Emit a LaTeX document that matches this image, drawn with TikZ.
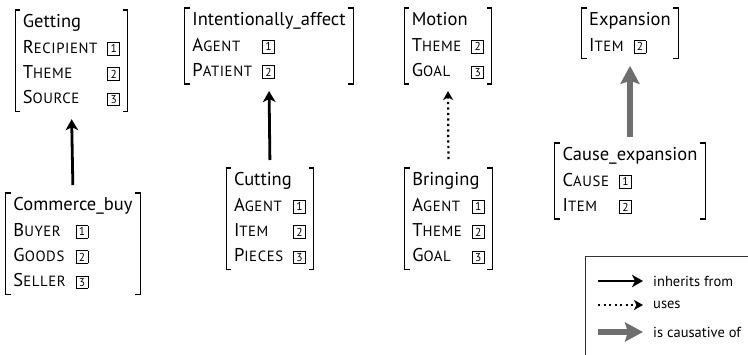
\documentclass[tikz,border=0pt]{standalone}
\usepackage{fontspec}
\setmainfont{PT Sans}
\usetikzlibrary{arrows.meta}

% frame typography: header in roman, roles in (synthetic) small caps, boxed indices
\newcommand\framefont{\fontsize{18.5}{21}\selectfont}
\newcommand\scsize{\fontsize{14.8}{16}\selectfont\addfontfeature{LetterSpace=4}}
\def\rolename#1{\rolesplit#1\relax}
\def\rolesplit#1#2\relax{#1{\scsize\MakeUppercase{#2}}}
\newcommand\slot[1]{\raisebox{0.2pt}{\setlength\fboxsep{1.7pt}\setlength\fboxrule{0.7pt}\fbox{\fontsize{11.5}{11.5}\selectfont\makebox[8pt]{#1}}}}
\newenvironment{fe}{\renewcommand\arraystretch{1.2}\begin{tabular}{@{}l@{\hspace{10pt}}l@{}}}{\end{tabular}}
\newcommand\fhead[1]{\multicolumn{2}{@{}l@{}}{#1}}

\definecolor{causegray}{HTML}{6E6E6E}

\tikzset{
  avm/.style={inner xsep=7.5pt, inner ysep=0pt, font=\framefont, anchor=north},
  bracket/.style={line width=1.1pt, line cap=rect},
  inherit/.style={line width=2.8pt, -{Stealth[length=11pt, width=12.5pt, inset=3pt]}},
  uses/.style={line width=2.2pt, dash pattern=on 2.2pt off 3.3pt,
    -{Stealth[length=9pt, width=10pt, inset=2.5pt]}},
  causes/.style={line width=6.5pt, draw=causegray,
    -{Stealth[length=18pt, width=19pt, inset=3pt, fill=causegray]}},
  legtext/.style={inner sep=0pt, anchor=west, font=\fontsize{14.5}{16}\selectfont},
}

% square brackets round a frame node
\newcommand\brackets[1]{%
  \draw[bracket] ([xshift=4.5pt]#1.north west) -- (#1.north west) -- (#1.south west) -- ([xshift=4.5pt]#1.south west);
  \draw[bracket] ([xshift=-4.5pt]#1.north east) -- (#1.north east) -- (#1.south east) -- ([xshift=-4.5pt]#1.south east);}

\begin{document}
\begin{tikzpicture}[x=1pt, y=-1pt]
\useasboundingbox (0,0) rectangle (748,354);
\clip (0,0) rectangle (748,354);
\fill[white] (0,0) rectangle (748,354);

% frames
\node[avm] (get) at (71.5,10) {\begin{fe}
  \fhead{Getting}\\
  \rolename{Recipient} & \slot{1}\\
  \rolename{Theme} & \slot{2}\\
  \rolename{Source} & \slot{3}
\end{fe}};
\node[avm] (buy) at (73,193) {\begin{fe}
  \fhead{Commerce\_buy}\\
  \rolename{Buyer} & \slot{1}\\
  \rolename{Goods} & \slot{2}\\
  \rolename{Seller} & \slot{3}
\end{fe}};
\node[avm] (int) at (269,8) {\begin{fe}
  \fhead{Intentionally\_affect}\\
  \rolename{Agent} & \slot{1}\\
  \rolename{Patient} & \slot{2}
\end{fe}};
\node[avm] (cut) at (270,168) {\begin{fe}
  \fhead{Cutting}\\
  \rolename{Agent} & \slot{1}\\
  \rolename{Item} & \slot{2}\\
  \rolename{Pieces} & \slot{3}
\end{fe}};
\node[avm] (mot) at (448,8) {\begin{fe}
  \fhead{Motion}\\
  \rolename{Theme} & \slot{2}\\
  \rolename{Goal} & \slot{3}
\end{fe}};
\node[avm] (bri) at (448.5,168) {\begin{fe}
  \fhead{Bringing}\\
  \rolename{Agent} & \slot{1}\\
  \rolename{Theme} & \slot{2}\\
  \rolename{Goal} & \slot{3}
\end{fe}};
\node[avm] (exp) at (630,8) {\begin{fe}
  \fhead{Expansion}\\
  \rolename{Item} & \slot{2}
\end{fe}};
\node[avm] (cex) at (630,143) {\begin{fe}
  \fhead{Cause\_expansion}\\
  \rolename{Cause} & \slot{1}\\
  \rolename{Item} & \slot{2}
\end{fe}};

\foreach \f in {get,buy,int,cut,mot,bri,exp,cex} {\brackets{\f}}

% relations
\draw[inherit, shorten <=8pt, shorten >=8pt] (buy.north) -- (get.south);
\draw[inherit, shorten <=8pt, shorten >=7pt] (cut.north) -- (int.south);
\draw[uses, shorten <=9pt, shorten >=7pt] (bri.north) -- (mot.south);
\draw[causes, shorten <=6pt, shorten >=7pt] (cex.north) -- (exp.south);

% legend
\draw[line width=0.9pt, draw=black!80] (585,256) rectangle (770,380);
\node[legtext] (li) at (653,281) {inherits from};
\node[legtext] (lu) at (653,305) {uses};
\node[legtext] (lc) at (653,332) {is causative of};
\coordinate (si) at (598,281);
\coordinate (su) at (598,305);
\coordinate (sc) at (598,332);
\draw[inherit] (si) -- ([xshift=-10pt]li.west);
\draw[uses] (su) -- ([xshift=-10pt]lu.west);
\draw[causes] (sc) -- ([xshift=-10pt]lc.west);
\end{tikzpicture}
\end{document}
